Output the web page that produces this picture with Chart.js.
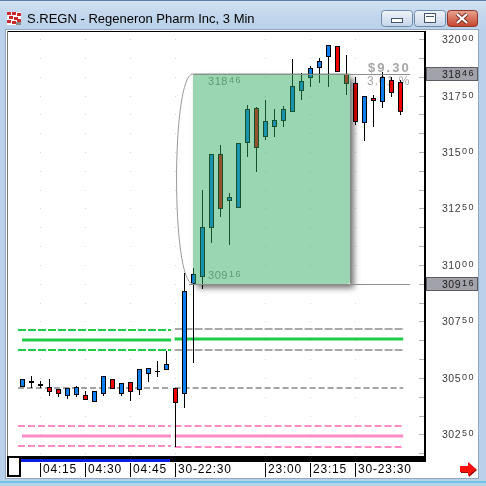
<!DOCTYPE html>
<html>
<head>
<meta charset="utf-8">
<script src="https://cdn.jsdelivr.net/npm/chart.js@4.4.1/dist/chart.umd.min.js"></script>
<style>
  html, body { margin: 0; padding: 0; background: #b9d1ea; }
  #wrap { width: 486px; height: 486px; }
</style>
</head>
<body>
<div id="wrap"><canvas id="chart" width="486" height="486"></canvas></div>
<script>
// 3 min bars, two sessions
const times = ['04:09','04:12','04:15','04:18','04:21','04:24','04:27','04:30','04:33','04:36',
  '04:39','04:42','04:45','04:48','04:51','04:54','04:57','22:30','22:33','22:36',
  '22:39','22:42','22:45','22:48','22:51','22:54','22:57','23:00','23:03','23:06',
  '23:09','23:12','23:15','23:18','23:21','23:24','23:27','23:30','23:33','23:36',
  '23:39','23:42','23:45'];
const opens = [30460,30478,30473,30460,30451,30420,30425,30425,30394,30429,
  30496,30429,30482,30447,30518,30531,30535,30456,30429,30916,
  30947,31164,31491,31283,31252,31540,31695,31566,31611,31637,
  31677,31770,31827,31872,31920,31969,31845,31805,31628,31739,
  31721,31819,31810];
const highs = [30496,30509,30487,30496,30451,30456,30465,30442,30442,30509,
  30496,30478,30482,30540,30544,30575,30619,30456,30965,30987,
  31332,31491,31531,31319,31540,31708,31699,31730,31690,31704,
  31912,31850,31881,31916,31973,31969,31929,31832,31748,31752,
  31854,31832,31819];
const lows = [30460,30456,30456,30420,30416,30407,30416,30403,30394,30420,
  30451,30420,30398,30425,30482,30504,30535,30195,30367,30566,
  30894,31097,31212,31088,31252,31478,31411,31553,31566,31611,
  31677,31730,31788,31805,31788,31854,31752,31619,31549,31611,
  31695,31743,31664];
const closes = [30496,30487,30465,30438,30429,30456,30460,30403,30442,30509,
  30451,30478,30438,30540,30544,30526,30562,30389,30885,30960,
  31168,31491,31248,31301,31540,31690,31518,31637,31642,31690,
  31792,31814,31872,31903,31973,31854,31801,31633,31748,31726,
  31832,31761,31677];

const tickIdx = [2, 7, 12, 17, 27, 32, 37];
const tickLabels = ['04:15', '04:30', '04:45', '30-22:30', '23:00', '23:15', '30-23:30'];
const priceTicks = [30250, 30500, 30750, 31000, 31250, 31500, 31750, 32000];

// horizontal levels, first session and second session
const levelsEarly = [30712, 30668, 30624, 30456, 30288, 30243, 30199];
const levelsLate = [30717, 30672, 30624, 30456, 30288, 30243, 30195];

// measured range
const rangeHigh = 31846;
const rangeLow = 30916;

const FONT = '"Liberation Sans", Arial, sans-serif';
const UP = '#0b7ef0', DOWN = '#f00000';

const earlyColors = ['#20cc46','#20cc46','#20cc46','#a4a4a4','#ff8ac6','#ff8ac6','#ff8ac6'];
const lateColors = ['#a8a8a8','#20cc46','#a8a8a8','#a4a4a4','#ff8ac6','#ff8ac6','#ff8ac6'];
const levelWidths = [2, 3, 2, 2, 2, 3, 2];
const levelDashes = [[8,2],[],[8,2],[6,3],[7,3],[],[7,3]];

const levelSets = [];
levelsEarly.forEach((v, i) => {
  levelSets.push({
    type: 'line', order: 5,
    data: [{x: levelWidths[i] === 3 ? -0.05 : -0.5, y: v}, {x: 16.5, y: v}],
    borderColor: earlyColors[i], borderWidth: levelWidths[i], borderDash: levelDashes[i],
    pointRadius: 0, tension: 0
  });
});
levelsLate.forEach((v, i) => {
  levelSets.push({
    type: 'line', order: 5,
    data: [{x: 16.9, y: v}, {x: 42.3, y: v}],
    borderColor: lateColors[i], borderWidth: levelWidths[i], borderDash: levelDashes[i],
    pointRadius: 0, tension: 0
  });
});

function priceText(ctx, v, x, base, color, big, small) {
  const s = String(v);
  const head = s.slice(0, -2), tail = s.slice(-2);
  ctx.fillStyle = color;
  ctx.textAlign = 'left';
  ctx.textBaseline = 'alphabetic';
  ctx.font = big + 'px ' + FONT;
  ctx.letterSpacing = '0.5px';
  ctx.fillText(head, x, base);
  const w = ctx.measureText(head).width;
  ctx.font = small + 'px ' + FONT;
  ctx.letterSpacing = '1.5px';
  ctx.fillText(tail, x + w + 1, base - 2);
  ctx.letterSpacing = '0px';
}

function roundRect(ctx, x, y, w, h, r) {
  ctx.beginPath();
  ctx.moveTo(x + r, y);
  ctx.arcTo(x + w, y, x + w, y + h, r);
  ctx.arcTo(x + w, y + h, x, y + h, r);
  ctx.arcTo(x, y + h, x, y, r);
  ctx.arcTo(x, y, x + w, y, r);
  ctx.closePath();
}

function button(ctx, x, y, w, h, top, bottom, edge) {
  const g = ctx.createLinearGradient(0, y, 0, y + h);
  g.addColorStop(0, top); g.addColorStop(1, bottom);
  roundRect(ctx, x + 0.5, y + 0.5, w, h, 3);
  ctx.fillStyle = g; ctx.fill();
  ctx.strokeStyle = edge; ctx.lineWidth = 1; ctx.stroke();
}

const chrome = {
  id: 'chrome',
  beforeDraw(chart) {
    const ctx = chart.ctx;
    ctx.save();
    ctx.fillStyle = '#b9d1ea';
    ctx.fillRect(0, 0, 486, 486);
    const g = ctx.createLinearGradient(0, 0, 0, 30);
    g.addColorStop(0, '#d2e1f2'); g.addColorStop(0.5, '#c2d7ed'); g.addColorStop(1, '#b9d1ea');
    ctx.fillStyle = g; ctx.fillRect(0, 0, 486, 30);
    ctx.fillStyle = '#5d7fa6'; ctx.fillRect(0, 0, 486, 1);
    ctx.fillStyle = '#6cc4e4'; ctx.fillRect(0, 481, 486, 2);
    // client area
    ctx.fillStyle = '#ffffff'; ctx.fillRect(6, 30, 472, 448);
    ctx.strokeStyle = '#90a6c0'; ctx.lineWidth = 1;
    ctx.strokeRect(5.5, 29.5, 473, 449);

    // icon
    ctx.fillStyle = '#ffffff'; ctx.fillRect(7, 12, 14, 13);
    ctx.fillStyle = '#cc2a2a';
    [[7,12],[12,12],[17,13],[9,16],[14,17],[7,20],[12,21],[17,19]].forEach(p => ctx.fillRect(p[0], p[1], 4, 3));
    ctx.fillStyle = '#8a8a8a'; ctx.fillRect(16, 22, 5, 3);

    // title
    ctx.fillStyle = '#000';
    ctx.font = '13px ' + FONT;
    ctx.textBaseline = 'alphabetic';
    ctx.fillText('S.REGN - Regeneron Pharm Inc, 3 Min', 27, 23);

    // window buttons
    button(ctx, 381, 10, 31, 16, '#f1f5fb', '#c5d6ea', '#6f8aa9');
    button(ctx, 414, 10, 31, 16, '#f1f5fb', '#c5d6ea', '#6f8aa9');
    button(ctx, 447, 10, 30, 16, '#e9a894', '#c7452f', '#8c3528');
    ctx.fillStyle = '#fff'; ctx.strokeStyle = '#42566e';
    ctx.fillRect(392, 19, 10, 3); ctx.strokeRect(391.5, 18.5, 11, 4);
    ctx.fillRect(425, 14, 10, 8); ctx.strokeRect(424.5, 13.5, 11, 9);
    ctx.fillStyle = '#42566e'; ctx.fillRect(426, 16, 8, 1);
    ctx.fillStyle = '#fff'; ctx.fillRect(427, 17, 6, 3);
    ctx.strokeStyle = '#7b2a20'; ctx.lineWidth = 4;
    ctx.beginPath(); ctx.moveTo(457, 14); ctx.lineTo(467, 23); ctx.moveTo(467, 14); ctx.lineTo(457, 23); ctx.stroke();
    ctx.strokeStyle = '#ffffff'; ctx.lineWidth = 2.2;
    ctx.beginPath(); ctx.moveTo(457, 14); ctx.lineTo(467, 23); ctx.moveTo(467, 14); ctx.lineTo(457, 23); ctx.stroke();

    // plot frame
    const a = chart.chartArea;
    ctx.fillStyle = '#000';
    ctx.fillRect(7, 31, 419, 1);
    ctx.fillStyle = '#777';
    ctx.fillRect(7, 31, 1, 426);
    ctx.fillStyle = '#000';
    ctx.fillRect(a.right - 1, 31, 2, 431);
    ctx.fillRect(8, a.bottom - 1, a.right - 7, 6);
    ctx.fillStyle = '#0a1ee6';
    ctx.fillRect(21, a.bottom + 2, 149, 3);

    // grid dots
    const {x, y} = chart.scales;
    ctx.fillStyle = '#d4d4d4';
    tickIdx.forEach(t => {
      const px = Math.floor(x.getPixelForValue(t));
      for (let v = 30250 - 250; v <= 32000; v += 250 / 3) {
        const py = Math.round(y.getPixelForValue(v));
        if (py > a.top && py < a.bottom - 2) ctx.fillRect(px, py, 1, 1);
      }
    });
    ctx.restore();
  },
  beforeDatasetsDraw(chart) {
    const ctx = chart.ctx;
    const {x, y} = chart.scales;
    const bx1 = x.getPixelForValue(36.4);
    const by0 = y.getPixelForValue(rangeHigh);
    const diff = rangeHigh - rangeLow;
    ctx.save();
    ctx.fillStyle = '#a6a6a6';
    ctx.font = 'bold 13px ' + FONT;
    ctx.letterSpacing = '2px';
    ctx.fillText('$' + (diff / 100).toFixed(2), bx1 + 18, by0 - 2);
    ctx.font = '12px ' + FONT;
    ctx.letterSpacing = '1px';
    ctx.fillText((diff / rangeLow * 100).toFixed(2) + ' %', bx1 + 17, by0 + 11);
    ctx.restore();
  },
  afterDatasetsDraw(chart) {
    const ctx = chart.ctx;
    const {x, y} = chart.scales;
    const a = chart.chartArea;
    const bx0 = x.getPixelForValue(18.95), bx1 = x.getPixelForValue(36.4);
    const by0 = y.getPixelForValue(rangeHigh), by1 = y.getPixelForValue(rangeLow);
    ctx.save();

    // labels inside the range box
    priceText(ctx, rangeHigh, bx0 + 15, by0 + 11, '#8c8c8c', 11, 9);
    priceText(ctx, rangeLow, bx0 + 15, by1 - 5, '#8c8c8c', 11, 9);

    // shadow only outside the box
    ctx.save();
    ctx.beginPath();
    ctx.rect(0, 0, 486, 486);
    ctx.rect(bx0, by0, bx1 - bx0, by1 - by0);
    ctx.clip('evenodd');
    ctx.shadowColor = 'rgba(0,0,0,0.55)';
    ctx.shadowBlur = 6; ctx.shadowOffsetX = 4; ctx.shadowOffsetY = 4;
    ctx.fillStyle = '#000';
    ctx.fillRect(bx0, by0, bx1 - bx0, by1 - by0);
    ctx.restore();

    roundRect(ctx, bx0, by0, bx1 - bx0, by1 - by0, 3);
    ctx.fillStyle = 'rgba(46,170,96,0.48)';
    ctx.fill();

    // range lines and bracket
    ctx.strokeStyle = '#8c8c8c'; ctx.lineWidth = 1;
    ctx.beginPath();
    ctx.moveTo(bx0, Math.round(by0) + 0.5); ctx.lineTo(410, Math.round(by0) + 0.5);
    ctx.moveTo(bx0 - 4, Math.round(by1) + 0.5); ctx.lineTo(410, Math.round(by1) + 0.5);
    ctx.stroke();
    ctx.strokeStyle = '#9a9a9a';
    ctx.beginPath();
    ctx.moveTo(bx0, by0);
    ctx.bezierCurveTo(bx0 - 22, by0, bx0 - 22, by1, bx0, by1);
    ctx.stroke();

    // price axis
    ctx.fillStyle = '#b4b4b4';
    for (let v = 30250 - 250; v <= 32000 + 1; v += 250 / 3) {
      const py = Math.round(y.getPixelForValue(v));
      if (py > a.top && py < a.bottom - 2) ctx.fillRect(a.right - 6, py, 5, 1);
    }
    priceTicks.forEach(v => {
      const py = y.getPixelForValue(v);
      priceText(ctx, v, 442, py + 4, '#3a3a3a', 10.5, 9);
    });
    [rangeHigh, rangeLow].forEach(v => {
      const py = Math.round(y.getPixelForValue(v));
      ctx.fillStyle = '#a2a2aa';
      ctx.fillRect(426, py - 7, 52, 14);
      ctx.strokeStyle = '#5c5c64';
      ctx.strokeRect(426.5, py - 6.5, 51, 13);
      priceText(ctx, v, 442, py + 4, '#1c1c1c', 10.5, 9);
    });

    // time axis
    ctx.fillStyle = '#000';
    ctx.font = '12px ' + FONT;
    ctx.letterSpacing = '0.8px';
    tickIdx.forEach((t, k) => {
      const px = Math.floor(x.getPixelForValue(t));
      ctx.fillRect(px, a.bottom + 6, 1, 14);
      ctx.fillText(tickLabels[k], px + 3, a.bottom + 16);
    });
    ctx.letterSpacing = '0px';

    // scroll thumb
    ctx.fillStyle = '#fff';
    ctx.fillRect(8, a.bottom, 12, 19);
    ctx.strokeStyle = '#000'; ctx.lineWidth = 2;
    ctx.strokeRect(8, a.bottom, 12, 19);

    // arrow
    ctx.fillStyle = '#9a0000';
    ctx.beginPath();
    ctx.moveTo(461, 467); ctx.lineTo(469, 467); ctx.lineTo(469, 463); ctx.lineTo(477, 470);
    ctx.lineTo(469, 477); ctx.lineTo(469, 473); ctx.lineTo(461, 473); ctx.closePath(); ctx.fill();
    ctx.fillStyle = '#ff1010';
    ctx.beginPath();
    ctx.moveTo(460, 466); ctx.lineTo(468, 466); ctx.lineTo(468, 462); ctx.lineTo(476, 469);
    ctx.lineTo(468, 476); ctx.lineTo(468, 472); ctx.lineTo(460, 472); ctx.closePath(); ctx.fill();

    ctx.restore();
  }
};

const wickData = lows.map((l, i) => ({x: i, y: [l, highs[i]]}));
const bodyData = opens.map((o, i) => ({x: i, y: [o, closes[i]]}));
const bodyColors = opens.map((o, i) => closes[i] >= o ? UP : DOWN);

new Chart(document.getElementById('chart'), {
  type: 'bar',
  data: {
    labels: times,
    datasets: [
      ...levelSets,
      {
        label: 'wick', order: 2, data: wickData,
        backgroundColor: '#000', borderWidth: 0,
        barThickness: 1, grouped: false, inflateAmount: 0
      },
      {
        label: 'body', order: 1, data: bodyData,
        backgroundColor: bodyColors, borderColor: '#000', borderWidth: 1,
        borderSkipped: false, barThickness: 5, grouped: false, inflateAmount: 0
      }
    ]
  },
  options: {
    responsive: false,
    animation: false,
    layout: { padding: { left: 8, top: 32, right: 61, bottom: 29 } },
    scales: {
      x: { type: 'linear', display: false, offset: false, min: -1.6111, max: 44.7222 },
      y: { type: 'linear', display: false, min: 30150.35, max: 32031 }
    },
    plugins: { legend: { display: false }, tooltip: { enabled: false } }
  },
  plugins: [chrome]
});
</script>
</body>
</html>
